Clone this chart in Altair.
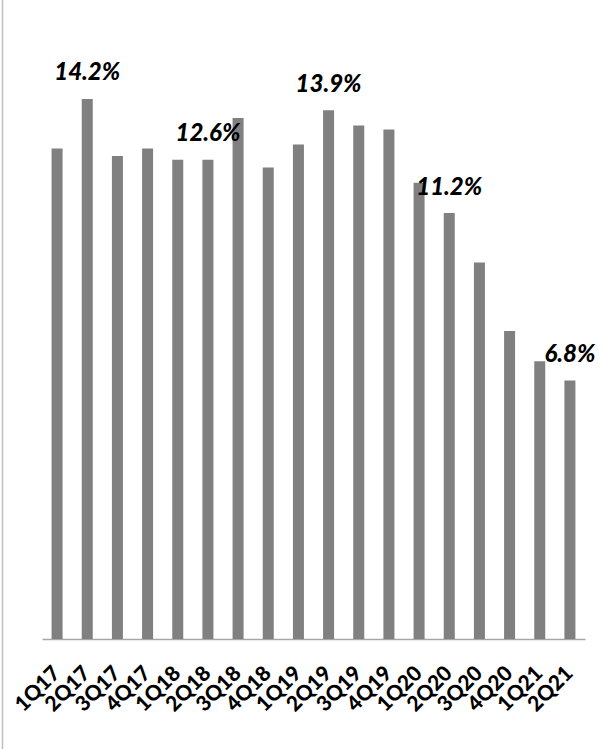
import altair as alt
import pandas as pd

# Quarterly ratio (%) by period
quarters = ["1Q17", "2Q17", "3Q17", "4Q17", "1Q18", "2Q18", "3Q18", "4Q18", "1Q19",
            "2Q19", "3Q19", "4Q19", "1Q20", "2Q20", "3Q20", "4Q20", "1Q21", "2Q21"]
values = [12.9, 14.2, 12.7, 12.9, 12.6, 12.6, 13.7, 12.4, 13.0,
          13.9, 13.5, 13.4, 12.0, 11.2, 9.9, 8.1, 7.3, 6.8]
# Only the second quarter of each year carries a value label
labels = ["", "14.2%", "", "", "", "12.6%", "", "", "",
          "13.9%", "", "", "", "11.2%", "", "", "", "6.8%"]

df = pd.DataFrame({"quarter": quarters, "value": values, "label": labels})

W, H = 543, 608.5
PAD_L, PAD_T = 42, 30.5

x = alt.X(
    "quarter:N",
    sort=quarters,
    scale=alt.Scale(domain=quarters, paddingInner=0.635, paddingOuter=0.3175),
    axis=alt.Axis(
        title=None,
        labelAngle=-45,
        labelAlign="right",
        labelBaseline="middle",
        labelFont="Lato",
        labelFontWeight=900,
        labelFontSize=21,
        labelColor="#000000",
        labelPadding=31,
        ticks=False,
        domainColor="#a6a6a6",
        domainWidth=1.5,
        grid=False,
    ),
)
y = alt.Y("value:Q", scale=alt.Scale(domain=[0, 16], nice=False), axis=None)

base = alt.Chart(df)

bars = base.mark_bar(color="#808080").encode(x=x, y=y)

text = base.transform_filter(alt.datum.label != "").mark_text(
    font="Lato",
    fontSize=24,
    fontWeight=900,
    fontStyle="italic",
    baseline="bottom",
    dy=-13.5,
    color="#000000",
).encode(x=x, y=y, text="label:N")

# thin frame line on the left edge of the chart
frame = alt.Chart(pd.DataFrame({"v": [0]})).mark_rule(color="#c0c0c0", strokeWidth=1.5).encode(
    x=alt.value(2.5 - PAD_L),
    y=alt.value(-PAD_T),
    y2=alt.value(749 - PAD_T),
)

chart = (
    alt.layer(bars, text, frame)
    .properties(
        width=W,
        height=H,
        autosize=alt.AutoSizeParams(type="none"),
        padding={"left": PAD_L, "top": PAD_T, "right": 602 - PAD_L - W, "bottom": 749 - PAD_T - H},
        background="#ffffff",
    )
    .configure_view(stroke=None)
)

chart.save("out.html", embed_options={"renderer": "svg", "actions": False})
